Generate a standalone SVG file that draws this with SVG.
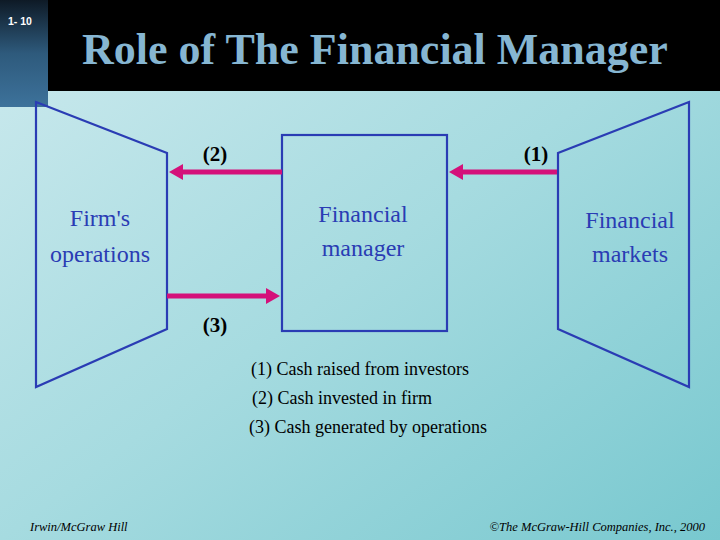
<svg xmlns="http://www.w3.org/2000/svg" width="720" height="540" viewBox="0 0 720 540">
<defs>
<linearGradient id="bg" x1="0" y1="0" x2="1" y2="1">
<stop offset="0" stop-color="#cdeaee"/>
<stop offset="0.5" stop-color="#a6dbe0"/>
<stop offset="1" stop-color="#78c8cf"/>
</linearGradient>
<linearGradient id="tab" x1="0" y1="0" x2="0" y2="1">
<stop offset="0" stop-color="#0e1a26"/>
<stop offset="0.5" stop-color="#2e5a7c"/>
<stop offset="1" stop-color="#3d729b"/>
</linearGradient>
<marker id="ah" viewBox="0 0 14 16" refX="1" refY="8" markerWidth="14" markerHeight="16" markerUnits="userSpaceOnUse" orient="auto">
<path d="M0,0 L14,8 L0,16 Z" fill="#d4117a"/>
</marker>
<style>
.shape{fill:none;stroke:#2a3cb4;stroke-width:2.2}
.conn{stroke:#d4117a;stroke-width:5;fill:none}
.node{font-size:24px;fill:#2a3cb4;text-anchor:middle}
.num{font-size:21px;font-weight:bold;fill:#000;text-anchor:middle}
.leg{font-size:18px;fill:#000}
.foot{font-size:12.5px;font-style:italic;fill:#000}
</style>
</defs>
<rect width="720" height="540" fill="url(#bg)"/>
<rect x="0" y="0" width="720" height="91" fill="#000"/>
<rect x="0" y="0" width="48" height="107" fill="url(#tab)"/>
<text x="8" y="25" font-family="'Liberation Sans', sans-serif" font-size="10.5" font-weight="bold" fill="#fff">1- 10</text>
<text x="375" y="64" text-anchor="middle" font-family="'Liberation Serif', serif" font-size="44" font-weight="bold" fill="#86b6d2">Role of The Financial Manager</text>

<g font-family="'Liberation Serif', serif">
<g id="firm">
<polygon class="shape" points="36,102 167,153 167,329 36,387"/>
<text class="node" x="100" y="226">Firm's</text>
<text class="node" x="100" y="262">operations</text>
</g>
<g id="manager">
<rect class="shape" x="282" y="135" width="165" height="196"/>
<text class="node" x="363" y="222">Financial</text>
<text class="node" x="363" y="256">manager</text>
</g>
<g id="markets">
<polygon class="shape" points="689,102 558,153 558,329 689,387"/>
<text class="node" x="630" y="228">Financial</text>
<text class="node" x="630" y="262">markets</text>
</g>

<g id="connectors">
<line class="conn" x1="282" y1="172" x2="182" y2="172" marker-end="url(#ah)"/>
<line class="conn" x1="167" y1="296" x2="267" y2="296" marker-end="url(#ah)"/>
<line class="conn" x1="557" y1="172" x2="462" y2="172" marker-end="url(#ah)"/>
<text class="num" x="215" y="161">(2)</text>
<text class="num" x="536" y="161">(1)</text>
<text class="num" x="215" y="332">(3)</text>
</g>

<g id="legend">
<text class="leg" x="251" y="375">(1) Cash raised from investors</text>
<text class="leg" x="252" y="404">(2) Cash invested in firm</text>
<text class="leg" x="249" y="433">(3) Cash generated by operations</text>
</g>

<text class="foot" x="30" y="531">Irwin/McGraw Hill</text>
<text class="foot" x="705" y="531" text-anchor="end">©The McGraw-Hill Companies, Inc., 2000</text>
</g>
</svg>
